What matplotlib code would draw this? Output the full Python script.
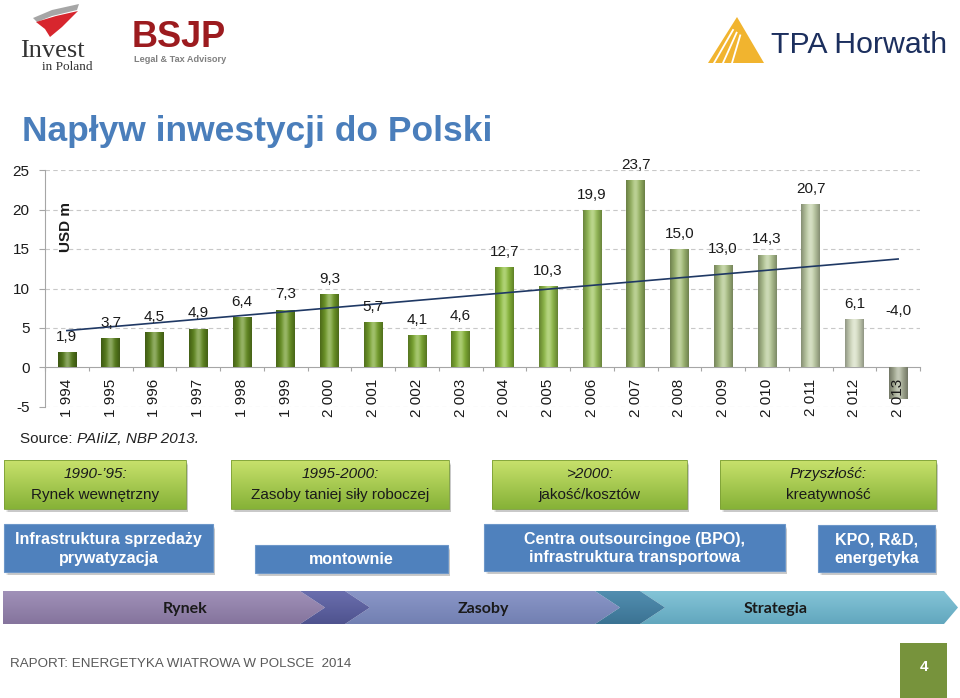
import numpy as np
import matplotlib
matplotlib.use('Agg')
import matplotlib.pyplot as plt
from matplotlib.colors import LinearSegmentedColormap, to_rgb
from matplotlib.patches import Rectangle, Polygon

plt.rcParams['font.family'] = ['Liberation Sans', 'DejaVu Sans']
plt.rcParams['axes.unicode_minus'] = False

# chart data (USD bn)
years = [1994, 1995, 1996, 1997, 1998, 1999, 2000, 2001, 2002, 2003,
         2004, 2005, 2006, 2007, 2008, 2009, 2010, 2011, 2012, 2013]
fdi = [1.9, 3.7, 4.5, 4.9, 6.4, 7.3, 9.3, 5.7, 4.1, 4.6,
       12.7, 10.3, 19.9, 23.7, 15.0, 13.0, 14.3, 20.7, 6.1, -4.0]
year_labels = [f'{y // 1000} {y % 1000:03d}' for y in years]
value_labels = [f'{v:.1f}'.replace('.', ',') for v in fdi]
y_ticks = [-5, 0, 5, 10, 15, 20, 25]

# text boxes under the chart
eras = ['1990-\u201995:', '1995-2000:', '>2000:', 'Przyszłość:']
era_desc = ['Rynek wewnętrzny', 'Zasoby taniej siły roboczej', 'jakość/kosztów', 'kreatywność']
drivers = ['Infrastruktura sprzedaży\nprywatyzacja', 'montownie',
           'Centra outsourcingoe (BPO),\ninfrastruktura transportowa', 'KPO, R&D,\nenergetyka']
phases = ['Rynek', 'Zasoby', 'Strategia']

W, H = 960, 698
fig = plt.figure(figsize=(W / 100, H / 100), dpi=100)

# overlay axes in pixel coordinates for the slide decoration
ov = fig.add_axes([0, 0, 1, 1])
ov.axis('off')


def grad_fill(x0, y0, x1, y1, top, bottom, z, clip=None):
    g = np.linspace(0, 1, 60)[:, None, None]
    img = (1 - g) * np.array(to_rgb(top)) + g * np.array(to_rgb(bottom))
    im = ov.imshow(img, extent=(x0, x1, y1, y0), aspect='auto', zorder=z,
                   interpolation='bilinear')
    if clip is not None:
        im.set_clip_path(clip)
    return im


def shadow(x0, y0, x1, y1):
    for k, a in enumerate([0.10, 0.12, 0.15]):
        ov.add_patch(Rectangle((x0 + 2 + k, y0 + 3 + k), x1 - x0 - k, y1 - y0 - k,
                               facecolor='#606060', edgecolor='none', alpha=a, zorder=1))


# logos
ov.add_patch(Polygon([(33, 18), (52, 10), (79, 4), (77, 10), (52, 16), (37, 22)],
                     facecolor='#a6a6a6', edgecolor='none'))
ov.add_patch(Polygon([(36, 22), (56, 16), (78, 11), (62, 27), (50, 37), (45, 29)],
                     facecolor='#d7262e', edgecolor='none'))
ov.text(20, 57, 'Invest', family=['Liberation Serif', 'DejaVu Serif'], fontsize=19,
        color='#333333', va='baseline')
ov.text(42, 69.5, 'in Poland', family=['Liberation Serif', 'DejaVu Serif'], fontsize=9.5,
        color='#333333', va='baseline')
ov.text(132, 47, 'BSJP', fontsize=26, fontweight='bold', color='#9c1b1f', va='baseline')
ov.text(134, 62, 'Legal & Tax Advisory', fontsize=6.6, fontweight='bold', color='#7f7f7f',
        va='baseline')
ov.add_patch(Polygon([(708, 63), (737, 17), (764, 63)], facecolor='#f1b42f', edgecolor='none'))
for dx in [0, 9, 18]:
    ov.plot([714 + dx, 733 + dx * 0.4], [63, 30 + dx * 0.3], color='white', lw=1.3)
ov.text(771, 53, 'TPA Horwath', fontsize=21.8, color='#1c2f5e', va='baseline')

# title
ov.text(22, 141, 'Napływ inwestycji do Polski', fontsize=25.5, fontweight='bold',
        color='#4a7ebb', va='baseline')

# source note
src = ov.text(20, 443, 'Source: ', fontsize=11, color='#222222', va='baseline')
ov.annotate('PAIiIZ, NBP 2013.', xy=(1, 0), xycoords=src, va='bottom', fontsize=11,
            style='italic', color='#222222')

# green era boxes
green_boxes = [(4, 186), (231, 449), (492, 687), (720, 936)]
for (x0, x1), era, desc in zip(green_boxes, eras, era_desc):
    y0, y1 = 460, 509
    shadow(x0, y0, x1, y1)
    grad_fill(x0, y0, x1, y1, '#c8e16c', '#86b237', 2)
    ov.add_patch(Rectangle((x0, y0), x1 - x0, y1 - y0, facecolor='none',
                           edgecolor='#7b9e35', lw=0.6, zorder=3))
    cx = (x0 + x1) / 2
    ov.text(cx, 474, era, fontsize=11, style='italic', ha='center', va='center',
            color='#1a1a1a', zorder=4)
    ov.text(cx, 495, desc, fontsize=11, ha='center', va='center', color='#1a1a1a', zorder=4)

# blue driver boxes
blue_boxes = [(4, 213, 524, 572), (255, 448, 545, 573), (484, 785, 524, 571), (818, 935, 525, 572)]
for (x0, x1, y0, y1), txt in zip(blue_boxes, drivers):
    shadow(x0, y0, x1, y1)
    ov.add_patch(Rectangle((x0, y0), x1 - x0, y1 - y0, facecolor='#4f81bd',
                           edgecolor='#6d97c9', lw=0.8, zorder=2))
    ov.text((x0 + x1) / 2, (y0 + y1) / 2 + 1, txt, fontsize=11.5, fontweight='bold',
            color='white', ha='center', va='center', linespacing=1.3, zorder=4)

# process arrow
top, bot = 591, 624
mid = (top + bot) / 2
segs = [
    ([(3, top), (300, top), (325, mid), (300, bot), (3, bot)], '#a091b8', '#85749d'),
    ([(345, top), (595, top), (620, mid), (595, bot), (345, bot), (370, mid)], '#8a96c7', '#7280b2'),
    ([(640, top), (944, top), (958, mid), (944, bot), (640, bot), (665, mid)], '#84c4d7', '#62a7be'),
    ([(300, top), (345, top), (370, mid), (345, bot), (300, bot), (325, mid)], '#6a6eae', '#4f538e'),
    ([(595, top), (640, top), (665, mid), (640, bot), (595, bot), (620, mid)], '#528eb0', '#3b7393'),
]
for pts, c_top, c_bot in segs:
    poly = Polygon(pts, facecolor='none', edgecolor='none')
    ov.add_patch(poly)
    grad_fill(min(p[0] for p in pts), top, max(p[0] for p in pts), bot, c_top, c_bot, 2, clip=poly)
for cx, name in zip([185, 483, 776], phases):
    ov.text(cx, mid + 1, name, family=['Lato', 'DejaVu Sans'], fontsize=11.5,
            fontweight='bold', ha='center', va='center', color='#1a1a1a', zorder=5)

# footer
ov.text(10, 667, 'RAPORT: ENERGETYKA WIATROWA W POLSCE  2014',
        family=['Liberation Sans Narrow', 'Liberation Sans'], fontsize=9.6,
        color='#595959', va='baseline')
ov.add_patch(Rectangle((900, 643), 47, 55, facecolor='#77933c', edgecolor='none'))
ov.text(923.5, 667, '4', fontsize=11, fontweight='bold', color='white', ha='center', va='center')

ov.set_xlim(0, W)
ov.set_ylim(H, 0)

# bar chart
ax = fig.add_axes([45 / W, 1 - 407 / H, 875 / W, 237 / H])
ax.set_facecolor('none')
x = np.arange(len(fdi))

cmap = LinearSegmentedColormap.from_list('fdi', [
    (0.0, '#587f1c'), (0.30, '#6f9a26'), (0.53, '#8ebf3b'), (0.63, '#9cc45a'),
    (0.70, '#9eba6a'), (0.85, '#b8cb99'), (0.90, '#c4d2aa'), (0.95, '#d6dec3'), (1.0, '#a9b097')])
bar_colors = [cmap(i / (len(fdi) - 1)) for i in x]

bars = ax.bar(x, fdi, width=0.42, color=bar_colors, edgecolor='none', zorder=2)
t = np.linspace(0, 1, 40)
s = np.sin(np.pi * t)
for b, c in zip(bars, bar_colors):
    base = np.array(to_rgb(c))
    row = base[None, :] * (0.68 + 0.32 * s[:, None]) + (1 - base[None, :]) * 0.30 * (s ** 6)[:, None]
    img = np.clip(row[None, :, :], 0, 1)
    y_lo, y_hi = sorted([b.get_y(), b.get_y() + b.get_height()])
    im = ax.imshow(img, extent=(b.get_x(), b.get_x() + b.get_width(), y_lo, y_hi),
                   aspect='auto', zorder=3, interpolation='bilinear')
    im.set_clip_path(b)

# linear trend
coef = np.polyfit(x, fdi, 1)
ax.plot(x, np.polyval(coef, x), color='#1f3864', lw=1.2, zorder=4)

# value labels (negative value labelled above the axis, as on the slide)
for i, (v, lbl) in enumerate(zip(fdi, value_labels)):
    ax.annotate(lbl, (i, v if v > 0 else 5.2), xytext=(0, 6), textcoords='offset points',
                ha='center', va='bottom', fontsize=11, color='#1a1a1a', zorder=5)

# category labels under the zero line
for i, lbl in enumerate(year_labels):
    ax.annotate(lbl, (i, 0), xytext=(0, -8), textcoords='offset points', rotation=90,
                ha='center', va='top', fontsize=11, color='#1a1a1a', zorder=6)

ax.set_xlim(-0.5, len(fdi) - 0.5)
ax.set_ylim(-5, 25)
ax.set_yticks(y_ticks)
ax.set_yticklabels([str(v) for v in y_ticks])
ax.set_xticks(np.arange(-0.5, len(fdi), 1))
ax.set_xticklabels([])
ax.spines['bottom'].set_position(('data', 0))
ax.spines['bottom'].set_color('#a6a6a6')
ax.spines['left'].set_color('#a6a6a6')
ax.spines['top'].set_visible(False)
ax.spines['right'].set_visible(False)
ax.tick_params(axis='y', length=4, color='#a6a6a6', labelsize=11, pad=7, labelcolor='#1a1a1a')
ax.tick_params(axis='x', length=3, color='#a6a6a6')
for v in y_ticks:
    if v != 0:
        ax.axhline(v, color='#c8c8c8', lw=0.8, ls=(0, (4, 3)), zorder=1)
ax.text(0.024, 0.76, 'USD m', transform=ax.transAxes, rotation=90, fontsize=11,
        fontweight='bold', ha='center', va='center', color='#1a1a1a')

fig.savefig('out.png', dpi=100)
